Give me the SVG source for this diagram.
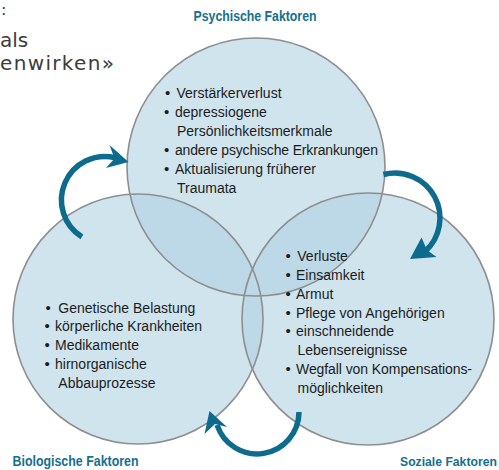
<svg xmlns="http://www.w3.org/2000/svg" width="499" height="470" viewBox="0 0 499 470">
<style>
.fill{fill:#d0e4ee;stroke:none}
.ov{fill:#bdd8e6;stroke:none}
.ring{fill:none;stroke:#8e8e8e;stroke-width:1.6}
.it{font-family:"Liberation Sans",Arial,sans-serif;font-size:14px;fill:#1c1c1c}
.bu{font-family:"Liberation Sans",Arial,sans-serif;font-size:15px;fill:#1c1c1c}
.ti{font-family:"Liberation Sans",Arial,sans-serif;font-size:14px;font-weight:bold;fill:#15708f}
.hd{font-family:"DejaVu Sans",sans-serif;font-size:20px;fill:#3c3c3c}
.shaft{fill:none;stroke:#0d6b8d;stroke-width:5.5}
.head{fill:#0d6b8d;stroke:none}
</style>
<defs>
<clipPath id="cT"><circle cx="256" cy="167" r="129"/></clipPath>
<clipPath id="cL"><circle cx="138" cy="319" r="125"/></clipPath>
</defs>
<rect width="499" height="470" fill="#ffffff"/>
<g id="header">
<text class="hd" x="1" y="15" style="font-size:16px">:</text>
<text class="hd" x="0" y="47">als</text>
<text class="hd" x="0" y="70" textLength="114">enwirken»</text>
</g>
<g id="shapes">
<circle class="fill" cx="256" cy="167" r="129"/>
<circle class="fill" cx="138" cy="319" r="125"/>
<circle class="fill" cx="368" cy="319" r="126"/>
<circle class="ov" cx="138" cy="319" r="125" clip-path="url(#cT)"/>
<circle class="ov" cx="368" cy="319" r="126" clip-path="url(#cT)"/>
<circle class="ov" cx="368" cy="319" r="126" clip-path="url(#cL)"/>
<circle class="ring" cx="256" cy="167" r="129"/>
<circle class="ring" cx="138" cy="319" r="125"/>
<circle class="ring" cx="368" cy="319" r="126"/>
</g>
<g id="psychisch">
<text class="ti" x="193.5" y="21" textLength="123" lengthAdjust="spacingAndGlyphs">Psychische Faktoren</text>
<text class="bu" x="165" y="98">•</text>
<text class="it" x="176.5" y="98">Verstärkerverlust</text>
<text class="bu" x="164" y="117">•</text>
<text class="it" x="175" y="117">depressiogene</text>
<text class="it" x="177" y="136">Persönlichkeitsmerkmale</text>
<text class="bu" x="164" y="155">•</text>
<text class="it" x="175" y="155" textLength="203">andere psychische Erkrankungen</text>
<text class="bu" x="164" y="174">•</text>
<text class="it" x="175" y="174">Aktualisierung früherer</text>
<text class="it" x="177" y="193">Traumata</text>
</g>
<g id="biologisch">
<text class="ti" x="12.5" y="466" textLength="126" lengthAdjust="spacingAndGlyphs">Biologische Faktoren</text>
<text class="bu" x="45.5" y="312.5">•</text>
<text class="it" x="58.3" y="312.5">Genetische Belastung</text>
<text class="bu" x="44.5" y="331">•</text>
<text class="it" x="55" y="331">körperliche Krankheiten</text>
<text class="bu" x="44.5" y="349.5">•</text>
<text class="it" x="55" y="349.5">Medikamente</text>
<text class="bu" x="44.5" y="368.5">•</text>
<text class="it" x="55" y="368.5">hirnorganische</text>
<text class="it" x="58.3" y="387.5">Abbauprozesse</text>
</g>
<g id="sozial">
<text class="ti" x="400" y="466" style="font-size:12.2px">Soziale Faktoren</text>
<text class="bu" x="285.5" y="261">•</text>
<text class="it" x="297.3" y="261">Verluste</text>
<text class="bu" x="285.5" y="279.5">•</text>
<text class="it" x="296" y="279.5">Einsamkeit</text>
<text class="bu" x="285.5" y="298.5">•</text>
<text class="it" x="296" y="298.5">Armut</text>
<text class="bu" x="285.5" y="317.5">•</text>
<text class="it" x="296" y="317.5">Pflege von Angehörigen</text>
<text class="bu" x="285.5" y="336">•</text>
<text class="it" x="296" y="336">einschneidende</text>
<text class="it" x="297.5" y="355">Lebensereignisse</text>
<text class="bu" x="285.5" y="374">•</text>
<text class="it" x="296" y="374" textLength="176">Wegfall von Kompensations-</text>
<text class="it" x="297.5" y="393">möglichkeiten</text>
</g>
<g id="connectors">
<path class="shaft" d="M81.9,236.9 A43.5,43.5 0 0 1 115.5,157.8"/>
<path class="head" d="M128.5,162 L109.5,145 L114.5,158.5 L106,168 Z"/>
<path class="shaft" d="M383.4,174.5 A45,45 0 0 1 425.1,251.4"/>
<path class="head" d="M410,259 L421.5,237.5 L427,250 L436.5,257 Z"/>
<path class="shaft" d="M299,412 A42,42 0 0 1 217.1,425"/>
<path class="head" d="M209.5,411 L204.5,434 L215,424 L227,427 Z"/>
</g>
</svg>
